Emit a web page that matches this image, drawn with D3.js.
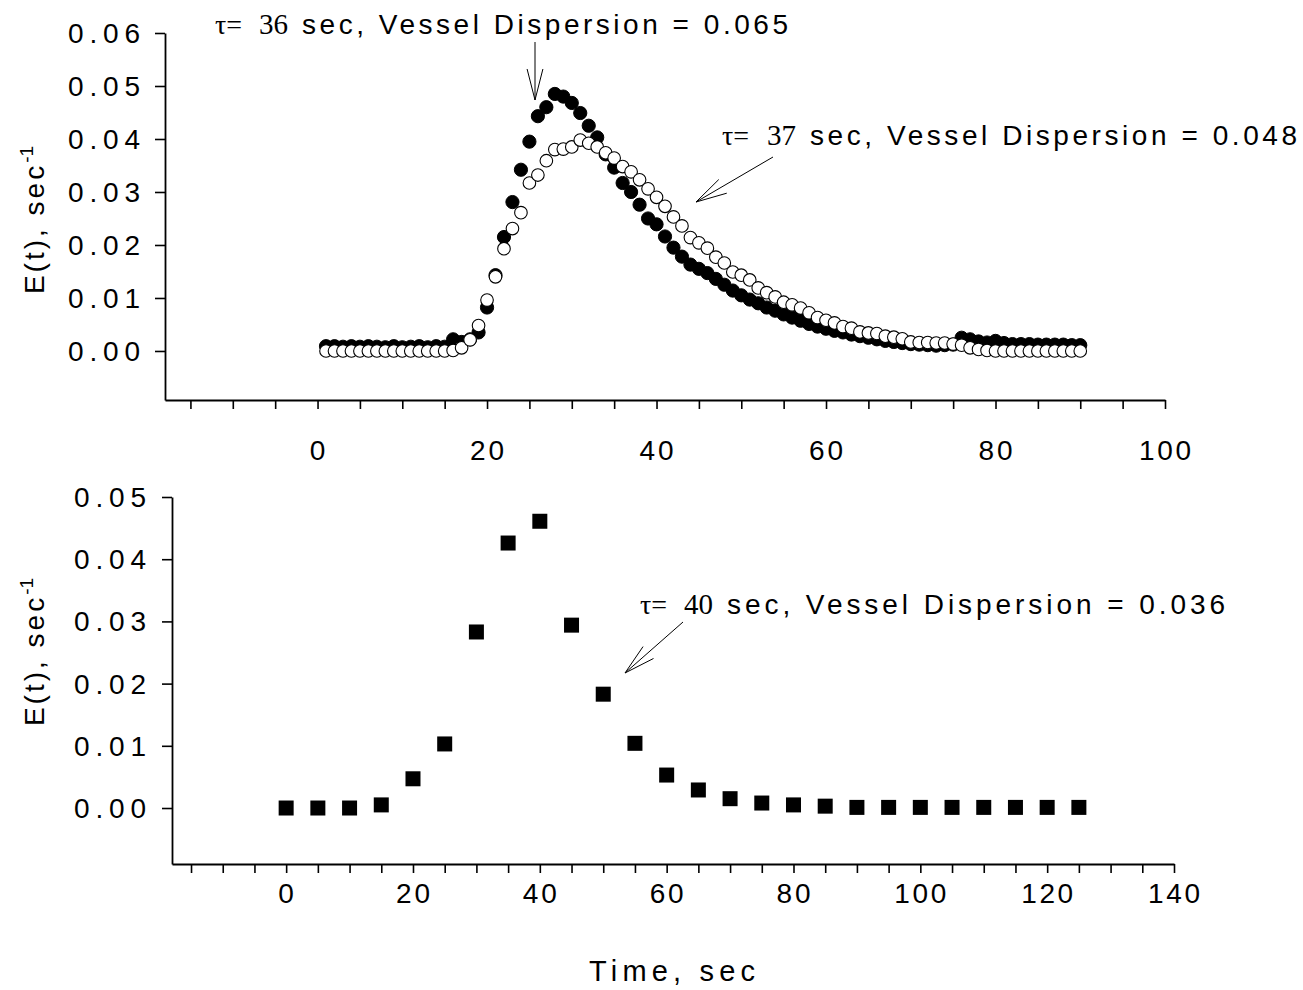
<!DOCTYPE html>
<html><head><meta charset="utf-8">
<script src="https://cdn.jsdelivr.net/npm/d3@7"></script>
<style>body{margin:0;background:#fff;} svg{display:block;}</style>
</head><body><svg id="c" width="1303" height="990"></svg>
<script>
// ---------- DATA ----------
const topTime = [1,2,3,4,5,6,7,8,9,10,11,12,13,14,15,16,17,18,19,20,21,22,23,24,25,26,27,28,29,30,
  31,32,33,34,35,36,37,38,39,40,41,42,43,44,45,46,47,48,49,50,51,52,53,54,55,56,57,58,59,60,
  61,62,63,64,65,66,67,68,69,70,71,72,73,74,75,76,77,78,79,80,81,82,83,84,85,86,87,88,89,90];
// tau = 36 s, D = 0.065 (filled circles)
const topFilled = [0.0009,0.0009,0.0008,0.0009,0.0008,0.0009,0.0008,0.0007,0.0009,0.0007,
  0.0008,0.0009,0.0007,0.0009,0.0008,0.0022,0.0017,0.0022,0.0035,0.0082,
  0.0143,0.0215,0.0281,0.0342,0.0395,0.0443,0.0460,0.0485,0.0480,0.0468,
  0.0449,0.0425,0.0403,0.0371,0.0346,0.0317,0.0300,0.0276,0.0250,0.0239,
  0.0216,0.0195,0.0178,0.0163,0.0155,0.0147,0.0136,0.0125,0.0114,0.0105,
  0.0097,0.0090,0.0082,0.0076,0.0069,0.0063,0.0057,0.0051,0.0046,0.0042,
  0.0038,0.0035,0.0031,0.0028,0.0025,0.0022,0.0019,0.0017,0.0015,0.0013,
  0.0012,0.0011,0.0010,0.0011,0.0012,0.0025,0.0022,0.0018,0.0016,0.0019,
  0.0015,0.0013,0.0013,0.0013,0.0012,0.0012,0.0012,0.0012,0.0011,0.0011];
// tau = 37 s, D = 0.048 (open circles)
const topOpen = [0,0,0,0,0,0,0,0,0,0,0,0,0,0,0,0.0001,0.0006,0.0021,0.0048,0.0096,
  0.0140,0.0193,0.0231,0.0261,0.0317,0.0332,0.0359,0.0380,0.0381,0.0385,
  0.0398,0.0392,0.0385,0.0374,0.0364,0.0348,0.0338,0.0323,0.0306,0.0290,
  0.0273,0.0253,0.0236,0.0214,0.0204,0.0194,0.0177,0.0166,0.0149,0.0143,
  0.0134,0.0119,0.0110,0.0102,0.0092,0.0087,0.0081,0.0072,0.0063,0.0058,
  0.0053,0.0046,0.0043,0.0036,0.0034,0.0033,0.0028,0.0026,0.0023,0.0017,
  0.0016,0.0016,0.0015,0.0015,0.0013,0.0011,0.0006,0.0003,0.0001,0,
  0,0,0,0,0,0,0,0,0,0];
// tau = 40 s, D = 0.036 (squares)
const botTime = [0,5,10,15,20,25,30,35,40,45,50,55,60,65,70,75,80,85,90,95,100,105,110,115,120,125];
const botValues = [0,0,0,0.0005,0.0047,0.0103,0.0283,0.0426,0.0461,0.0294,0.0183,0.0104,
  0.0053,0.0029,0.0015,0.0008,0.0005,0.0003,0.0001,0.0001,0.0001,0.0001,0.0001,0.0001,0.0001,0.0001];

const topXLabels = [0,20,40,60,80,100];
const botXLabels = [0,20,40,60,80,100,120,140];
const topYLabels = [0,0.01,0.02,0.03,0.04,0.05,0.06];
const botYLabels = [0,0.01,0.02,0.03,0.04,0.05];
const topXMinor = [-15,-10,-5,0,5,10,15,20,25,30,35,40,45,50,55,60,65,70,75,80,85,90,95,100];
const botXMinor = [-15,-10,-5,0,5,10,15,20,25,30,35,40,45,50,55,60,65,70,75,80,85,90,95,100,105,110,115,120,125,130,135,140];

// ---------- DRAW ----------
const svg = d3.select("#c");
const SANS = "'Liberation Sans',Arial,sans-serif";
const SERIF = "'Liberation Serif','Times New Roman',serif";

const xTop = d3.scaleLinear().domain([-18, 100]).range([165, 1165]);
const yTop = d3.scaleLinear().domain([-0.00925, 0.06]).range([400, 33]);
const xBot = d3.scaleLinear().domain([-18, 140]).range([172, 1174]);
const yBot = d3.scaleLinear().domain([-0.009, 0.05]).range([864, 497]);

function label(g, x, y, str, len, anchor, size) {
  const t = g.append("text").attr("x", x).attr("y", y)
    .attr("font-family", SANS).attr("font-size", size || 28)
    .attr("text-anchor", anchor || "middle").attr("fill", "#000").text(str);
  if (len && str.length > 1) t.attr("textLength", len).attr("lengthAdjust", "spacing");
  return t;
}

function drawAxes(xs, ys, xMinor, xLab, yLab, xLabY, yLabX) {
  const gx = svg.append("g").attr("transform", `translate(0,${ys.range()[0]})`)
    .call(d3.axisBottom(xs).tickValues(xMinor).tickSize(9).tickSizeOuter(0).tickFormat(""));
  gx.select(".domain").attr("stroke-width", 2.2);
  gx.selectAll(".tick line").attr("stroke-width", 1.6);
  const gy = svg.append("g").attr("transform", `translate(${xs.range()[0]},0)`)
    .call(d3.axisLeft(ys).tickValues(yLab).tickSize(10).tickSizeOuter(0).tickFormat(""));
  gy.select(".domain").attr("stroke-width", 1.8);
  gy.selectAll(".tick line").attr("stroke-width", 1.6);
  const gl = svg.append("g");
  xLab.forEach(v => { const s = String(v); label(gl, xs(v), xLabY, s, s.length * 16 + (s.length - 1) * 2); });
  yLab.forEach(v => { const s = v.toFixed(2); label(gl, yLabX, ys(v) + 10, s, 72, "end"); });
}

drawAxes(xTop, yTop, topXMinor, topXLabels, topYLabels, 460, 140);
drawAxes(xBot, yBot, botXMinor, botXLabels, botYLabels, 903, 146);

// series
svg.append("g").selectAll("circle").data(topTime).join("circle")
  .attr("cx", (d) => xTop(d)).attr("cy", (d, i) => yTop(topFilled[i])).attr("r", 6.6)
  .attr("fill", "#000").attr("stroke", "#000").attr("stroke-width", 1);
svg.append("g").selectAll("circle").data(topTime).join("circle")
  .attr("cx", (d) => xTop(d)).attr("cy", (d, i) => yTop(topOpen[i])).attr("r", 6.3)
  .attr("fill", "#fff").attr("stroke", "#000").attr("stroke-width", 1.1);
const sq = 15;
svg.append("g").selectAll("rect").data(botTime).join("rect")
  .attr("x", (d) => xBot(d) - sq / 2).attr("y", (d, i) => yBot(botValues[i]) - sq / 2)
  .attr("width", sq).attr("height", sq).attr("fill", "#000");

// axis titles
function yTitle(cx, cy) {
  const t = svg.append("text").attr("transform", `translate(${cx},${cy}) rotate(-90)`)
    .attr("text-anchor", "middle").attr("font-family", SANS).attr("font-size", 28).attr("fill", "#000");
  t.append("tspan").text("E(t), sec").attr("letter-spacing", 3);
  t.append("tspan").text("-1").attr("font-size", 19).attr("dy", -11);
}
yTitle(44, 220);
yTitle(44, 652);
label(svg, 672, 981, "Time, sec", 166, "middle", 29);

// annotations
function annot(x1, x2, x3, base, tau, rest) {
  const t = svg.append("text").attr("x", x1).attr("y", base).attr("font-family", SERIF).attr("fill", "#000");
  t.append("tspan").attr("font-size", 28).text("τ= ");
  t.append("tspan").attr("x", x2 - 30).attr("font-size", 29).text(tau);
  label(svg, x2 + 13, base, rest, x3 - x2 - 13, "start", 28);
}
annot(215, 289, 788, 34, "36", "sec, Vessel Dispersion = 0.065");
annot(722, 797, 1297, 145, "37", "sec, Vessel Dispersion = 0.048");
annot(640, 714, 1225, 614, "40", "sec, Vessel Dispersion = 0.036");

function arrow(x0, y0, x1, y1) {
  const g = svg.append("g").attr("stroke", "#000").attr("stroke-width", 1).attr("fill", "none");
  g.append("line").attr("x1", x0).attr("y1", y0).attr("x2", x1).attr("y2", y1);
  const a = Math.atan2(y0 - y1, x0 - x1), L = 32, s = 0.25;
  [a - s, a + s].forEach(b => g.append("line").attr("x1", x1).attr("y1", y1)
    .attr("x2", x1 + L * Math.cos(b)).attr("y2", y1 + L * Math.sin(b)));
}
arrow(535, 42, 535, 100);
arrow(773, 157, 696, 202);
arrow(683, 622, 625, 673);
</script></body></html>
